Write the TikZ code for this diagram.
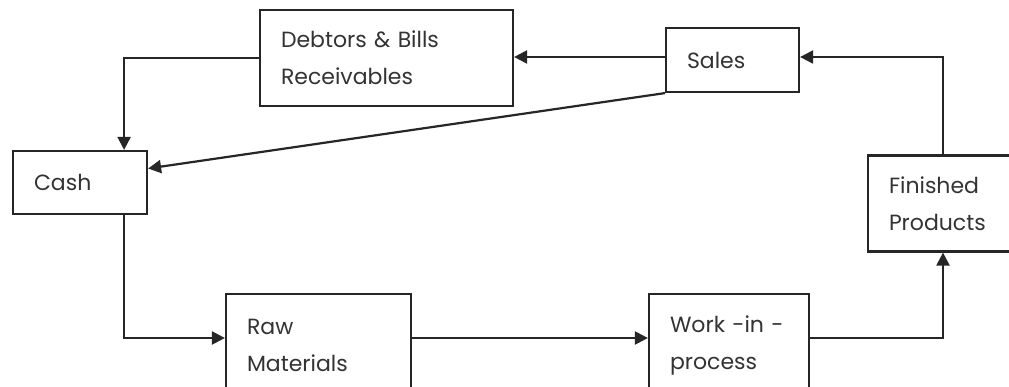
\documentclass[tikz,border=0pt]{standalone}
\usepackage{fontspec}
\setmainfont{Poppins}
\usetikzlibrary{arrows.meta}
\begin{document}
\begin{tikzpicture}[
        x=1pt, y=-1pt,
        font=\fontsize{22}{37}\selectfont,
        box/.style={draw=black!85, line width=2.2pt, inner xsep=21pt, inner ysep=0pt, align=left, text=black!80},
        arrow/.style={-{Triangle[length=13pt,width=13pt]}, draw=black!85, line width=2.2pt}
    ]
        \clip (0,0) rectangle (1009,387);
        \fill[white] (0,0) rectangle (1009,387);

        \node[box, text width=211, minimum height=96] (debtors) at (386.5,58) {Debtors \& Bills\\Receivables};
        \node[box, text width=91, minimum height=64] (sales) at (732.5,60) {Sales};
        \node[box, text width=92, minimum height=63] (cash) at (80,182.5) {Cash};
        \node[box, text width=108, minimum height=96] (finished) at (943,203.5) {Finished\\Products};
        \node[box, text width=143, minimum height=102] (raw) at (318.5,345) {Raw\\Materials};
        \node[box, text width=118, minimum height=102] (work) at (729,345) {Work -in -\\process};

        \coordinate (top) at (0,57);
        \coordinate (lane) at (0,338);

        % cycle
        \draw[arrow] (sales.west |- top) -- (debtors.east |- top);
        \draw[arrow] (debtors.west) -| ([xshift=-24pt]cash.north east);
        \draw[arrow] (sales.south west) -- ([yshift=14pt]cash.east);
        \draw[arrow] ([xshift=-24pt]cash.south east) |- (raw.west |- lane);
        \draw[arrow] (raw.east |- lane) -- (work.west |- lane);
        \draw[arrow] (work.east |- lane) -| (finished.south);
        \draw[arrow] (finished.north) |- (sales.east |- top);
    \end{tikzpicture}
\end{document}
